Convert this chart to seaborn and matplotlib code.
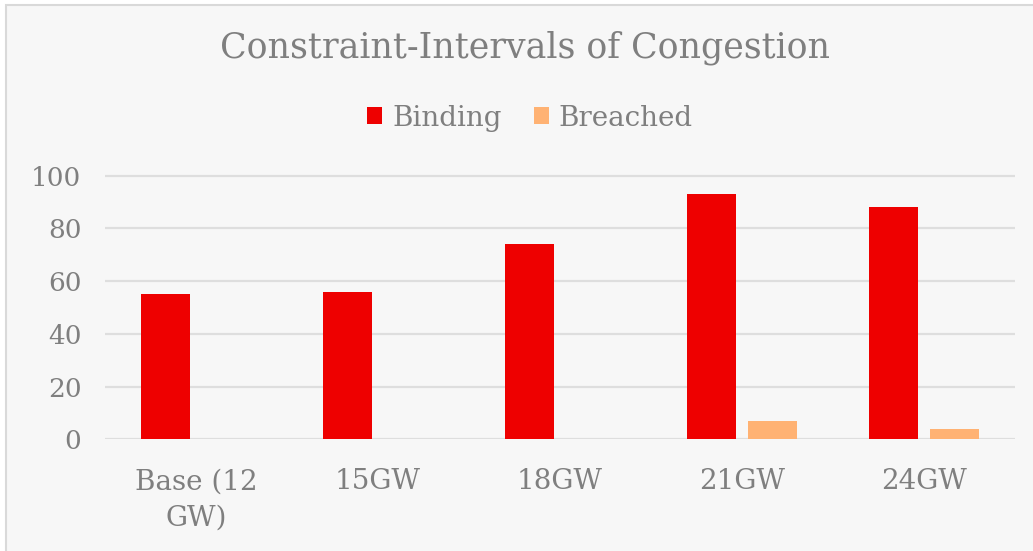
import matplotlib
matplotlib.use("Agg")
import matplotlib.pyplot as plt
from matplotlib.patches import Rectangle
import seaborn as sns
import pandas as pd

# Congestion intervals per scenario
scenarios = ["Base (12\nGW)", "15GW", "18GW", "21GW", "24GW"]
binding = [55, 56, 74, 93, 88]
breached = [0, 0, 0, 7, 4]
series_names = ["Binding", "Breached"]
colors = ["#EE0000", "#FFB273"]
y_ticks = [0, 20, 40, 60, 80, 100]

df = pd.DataFrame({
    "scenario": scenarios * 2,
    "series": [series_names[0]] * len(scenarios) + [series_names[1]] * len(scenarios),
    "value": binding + breached,
})

sns.set_theme(style="white")
plt.rcParams["font.family"] = ["DejaVu Serif"]
text_color = "#7F7F7F"
grid_color = "#DEDEDE"
bg = "#F7F7F7"

W, H = 1033, 551
fig = plt.figure(figsize=(W / 100, H / 100), dpi=100, facecolor="white")

# chart area panel with a thin border on top/left
fig.patches.append(Rectangle((6 / W, -0.5), 2.0, 1.5 - 5 / H, transform=fig.transFigure,
                             facecolor=bg, edgecolor="#D9D9D9", linewidth=1.5, zorder=-5))

ymax = 102
y0_px, y100_px = 439.3, 175.7
px_per_unit = (y0_px - y100_px) / 100
top_px = y0_px - ymax * px_per_unit
left_px, right_px = 105, 1015
ax = fig.add_axes([left_px / W, (H - y0_px) / H, (right_px - left_px) / W, (y0_px - top_px) / H])
ax.set_facecolor("none")
ax.set_zorder(2)

sns.barplot(data=df, x="scenario", y="value", hue="series", palette=colors,
            width=0.67, gap=0.21, ax=ax, legend=False, saturation=1,
            edgecolor="none", linewidth=0)

ax.set_ylim(0, ymax)
ax.set_xlim(-0.5, len(scenarios) - 0.5)
ax.set_yticks(y_ticks)
ax.yaxis.grid(True, color=grid_color, linewidth=1.6)
ax.set_axisbelow(True)
for s in ax.spines.values():
    s.set_visible(False)
ax.set_xlabel("")
ax.set_ylabel("")
ax.tick_params(axis="y", length=0, pad=17, labelsize=19, labelcolor=text_color)
ax.tick_params(axis="x", length=0, pad=21, labelsize=20, labelcolor=text_color)
for lbl in ax.get_xticklabels():
    lbl.set_linespacing(1.45)

fig.text(525 / W, 1 - 48 / H, "Constraint-Intervals of Congestion", ha="center", va="center",
         fontsize=25, color=text_color)

handles = [Rectangle((0, 0), 1, 1, facecolor=c, edgecolor="none") for c in colors]
fig.legend(handles, series_names, loc="center", bbox_to_anchor=(530 / W, 1 - 118 / H),
           ncol=2, frameon=False, fontsize=20, labelcolor=text_color,
           handlelength=0.55, handleheight=0.55, handletextpad=0.35, columnspacing=1.15)

fig.savefig("out.png", dpi=100, facecolor="white")
